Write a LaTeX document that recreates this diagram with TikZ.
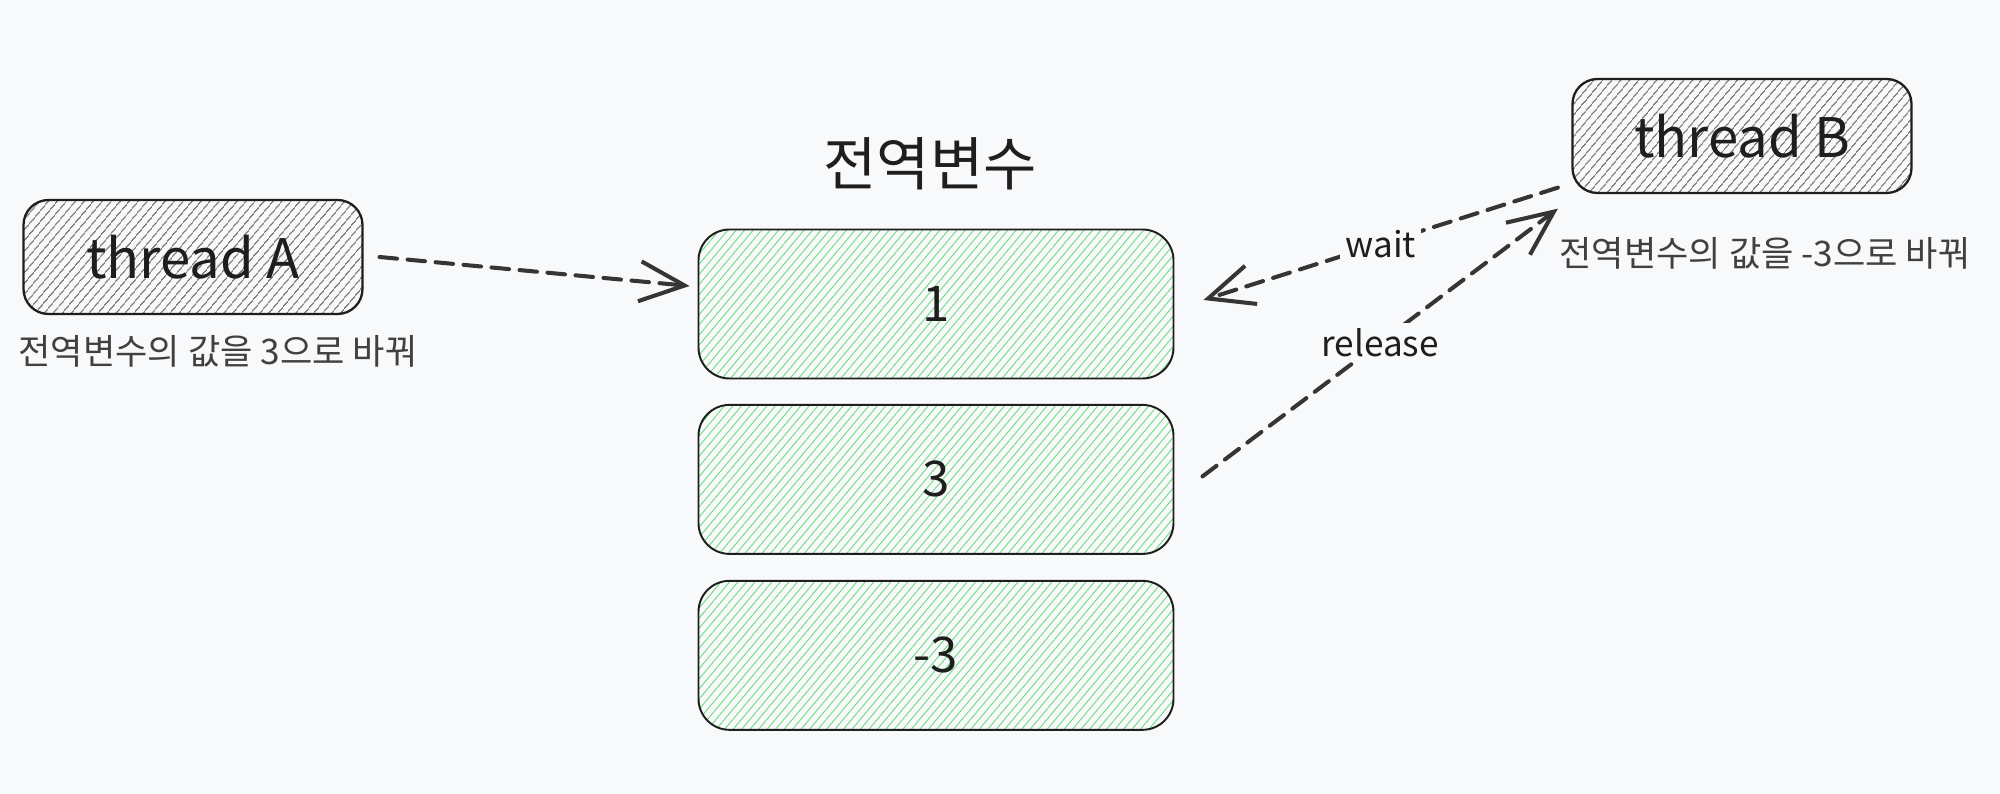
\documentclass[tikz,border=0pt]{standalone}
\usepackage{fontspec}
\setmainfont{Noto Sans CJK KR}
\usepackage{tikz}
\usetikzlibrary{arrows.meta,positioning,patterns.meta}
\definecolor{bg}{RGB}{248,249,251}
\definecolor{ink}{RGB}{30,30,30}
\definecolor{hatchg}{RGB}{105,219,124}
\tikzset{
  thread/.style={draw=ink, line width=1.3pt, rounded corners=0.5cm, minimum width=6.78cm, minimum height=2.28cm,
    pattern={Lines[angle=50,distance=0.14cm,line width=0.6pt]}, pattern color=ink!85,
    font=\fontsize{31}{36}\selectfont, text=ink},
  cell/.style={draw=ink, line width=1.1pt, rounded corners=0.62cm, minimum width=9.5cm, minimum height=2.98cm,
    pattern={Lines[angle=50,distance=0.13cm,line width=0.5pt]}, pattern color=hatchg,
    font=\fontsize{28}{34}\selectfont, text=ink},
  title/.style={font=\fontsize{33}{38}\selectfont, text=ink},
  note/.style={font=\fontsize{20}{24}\selectfont, text=ink!85},
  flow/.style={draw=ink!90, line width=2.3pt, line cap=round, dash pattern=on 10pt off 6pt,
    -{Straight Barb[length=9mm,width=8mm]}},
  lbl/.style={fill=bg, font=\fontsize{20}{24}\selectfont, text=ink, inner sep=3pt},
}
\begin{document}
\begin{tikzpicture}
  \path[use as bounding box, fill=bg] (0,0) rectangle (40,15.88);

  \node[thread] (thA) at (3.86,10.74) {thread A};
  \node[thread] (thB) at (34.84,13.16) {thread B};
  \node[note, below=0.3cm of thA, xshift=5mm] (noteA) {전역변수의 값을 3으로 바꿔};
  \node[note, below=0.75cm of thB, xshift=4.6mm] (noteB) {전역변수의 값을 -3으로 바꿔};

  \node[title] (gvar) at (18.6,12.6) {전역변수};
  \node[cell] (r1) at (18.72,9.8) {1};
  \node[cell, below=5mm of r1] (r2) {3};
  \node[cell, below=5mm of r2] (r3) {-3};

  \draw[flow] ([xshift=3.3mm]thA.east) -- ([xshift=-1.7mm, yshift=3.6mm]r1.west);
  \draw[flow] ([xshift=-2.7mm, yshift=1.3mm]thB.south west) -- node[lbl] {wait} ([xshift=5.9mm, yshift=0.8mm]r1.east);
  \draw[flow] ([xshift=5.6mm, yshift=0.6mm]r2.east) -- node[lbl] {release} ([xshift=-2.7mm, yshift=-2.9mm]thB.south west);
\end{tikzpicture}
\end{document}
